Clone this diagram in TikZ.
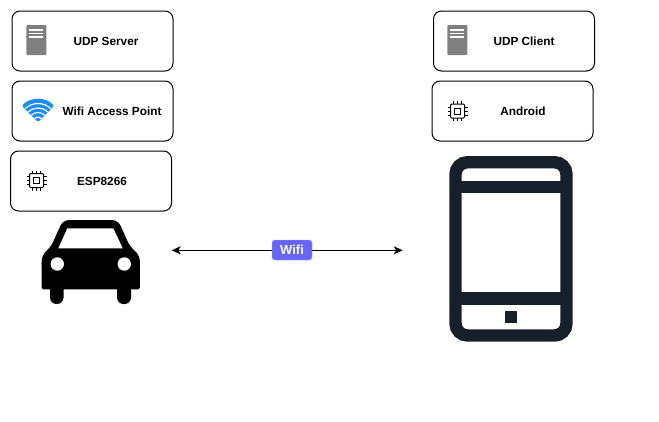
\documentclass[tikz,border=0pt]{standalone}
\usepackage{fontspec}
\setmainfont{Liberation Sans}
\usetikzlibrary{arrows.meta}
\definecolor{servergray}{HTML}{808080}
\definecolor{wifiblue}{HTML}{1A8CFF}
\definecolor{phonedark}{HTML}{17202A}
\definecolor{badgeblue}{HTML}{6666FF}
\tikzset{
  boxnode/.style={draw=black, line width=1pt, rounded corners=8pt, minimum width=161pt, minimum height=60pt, inner sep=0pt},
  boxlabel/.style={font=\bfseries\fontsize{11.8}{14}\selectfont, inner sep=0pt},
  wifiarc/.style={white, line width=1.2pt},
  chipicon/.pic={
    \draw[line width=1pt, rounded corners=1pt] (-7,-7) rectangle (7,7);
    \draw[line width=1pt] (-3,-3) rectangle (3,3);
    \foreach \p in {-4,0,4} {
      \draw[line width=1pt] (\p,-10) -- (\p,-7) (\p,7) -- (\p,10);
      \draw[line width=1pt] (-10,\p) -- (-7,\p) (7,\p) -- (10,\p);
    }
  },
  servericon/.pic={
    \fill[servergray, rounded corners=1pt] (-10,-15) rectangle (10,15);
    \foreach \s in {-10,-6.5,-3} {
      \draw[white, line width=1.5pt] (-7,\s) -- (7,\s);
    }
  }
}
\begin{document}
\begin{tikzpicture}[x=1pt, y=-1pt, >={Stealth[inset=2.5pt,length=9pt,width=8pt]}]
    \useasboundingbox (0,0) rectangle (659,421);

    % --- Left stack ---
    \node[boxnode] (udpserver) at (92.5,41) {};
    \node[boxlabel] (udpserverlabel) at (106,41.7) {UDP Server};
    \pic at (36.3,40) {servericon};

    \node[boxnode] (accesspoint) at (92.5,111) {};
    \node[boxlabel] (accesspointlabel) at (112,111.5) {Wifi Access Point};

    \node[boxnode] (esp) at (91,181) {};
    \node[boxlabel] (esplabel) at (102,181) {ESP8266};
    \pic at (36.5,180.5) {chipicon};

    % Wifi icon: blue fan cut by white arcs
    \coordinate (apex) at (38,122);
    \fill[wifiblue, rounded corners=1.5pt] (apex) -- ++(-135:23) arc[start angle=-135, end angle=-45, radius=23] -- cycle;
    \foreach \r in {5,9.5,14,18.5} {
      \draw[wifiarc] (apex) ++(-135:\r) arc[start angle=-135, end angle=-45, radius=\r];
    }

    % --- Right stack ---
    \node[boxnode] (udpclient) at (514,41) {};
    \node[boxlabel] (udpclientlabel) at (524,41.7) {UDP Client};
    \pic at (457.3,40) {servericon};

    \node[boxnode] (android) at (512.5,111) {};
    \node[boxlabel] (androidlabel) at (523,111) {Android};
    \pic at (457.5,111) {chipicon};

    % --- Car ---
    \fill[black, rounded corners=6pt] (41.7,255) -- (50.7,247.3) -- (63,220)
      -- (118,220) -- (130.3,247.3) -- (139.8,255) -- (139.8,270) -- (41.7,270) -- cycle;
    \fill[black, rounded corners=1.5pt] (41.7,262) -- (41.7,289.3) -- (139.8,289.3) -- (139.8,262) -- cycle;
    \fill[black, rounded corners=6.5pt] (50,280) -- (50,304) -- (63.5,304) -- (63.5,280) -- cycle;
    \fill[black, rounded corners=6.5pt] (117,280) -- (117,304) -- (131,304) -- (131,280) -- cycle;
    \fill[white] (58.3,248.3) -- (67.3,228.3) -- (113.3,228.3) -- (122.7,248.3) -- cycle;
    \fill[white] (57.3,264) circle (6.7);
    \fill[white] (124.3,264) circle (6.7);

    % --- Phone ---
    \draw[phonedark, line width=12.4pt, rounded corners=12pt] (455.5,162.2) rectangle (566.5,335.5);
    \draw[phonedark, line width=12.4pt] (461,187.2) -- (561,187.2);
    \draw[phonedark, line width=12.4pt] (461,298.3) -- (561,298.3);
    \fill[phonedark] (505,310.7) rectangle (517.3,323.3);

    % --- Wifi link ---
    \coordinate (linkleft) at (171.7,250.3);
    \coordinate (linkright) at (402.7,250.3);
    \draw[<->, line width=1pt] (linkleft) -- (linkright);
    \node[fill=badgeblue, draw=badgeblue!70!white, rounded corners=3pt, minimum width=40pt, minimum height=20pt,
      inner sep=0pt, text=white, font=\bfseries\fontsize{13}{15}\selectfont] (wifibadge) at (292,250) {Wifi};

  \end{tikzpicture}
\end{document}
